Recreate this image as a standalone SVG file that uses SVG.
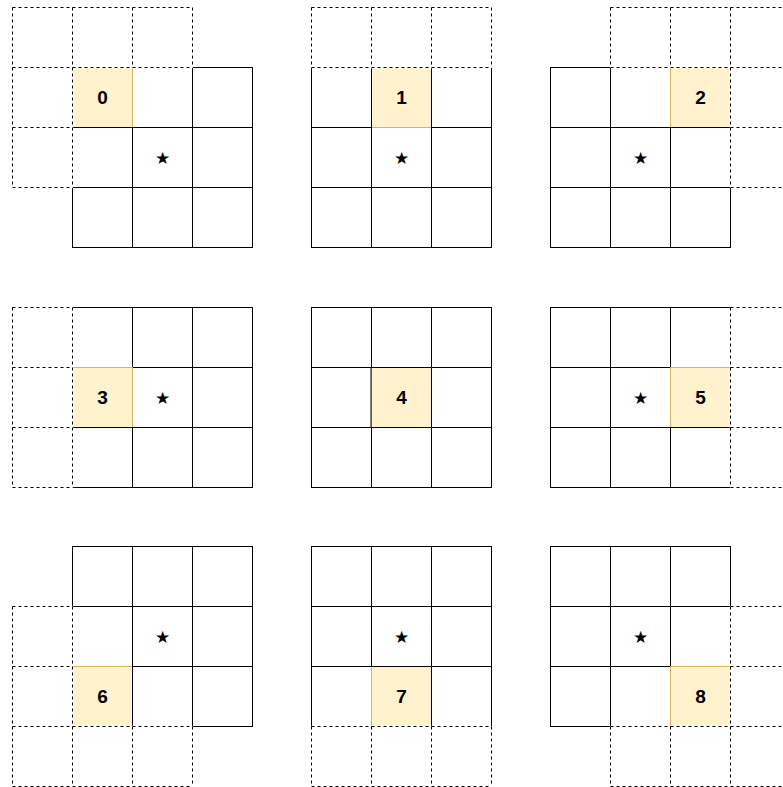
<svg xmlns="http://www.w3.org/2000/svg" xmlns:xlink="http://www.w3.org/1999/xlink" width="783" height="787" viewBox="0 0 783 787">
<style>
.dash{stroke:#000;stroke-width:1;fill:none;stroke-dasharray:3 3}
.erase{stroke:#fff;stroke-width:1.4;fill:none}
.solid{stroke:#000;stroke-width:1;fill:none;stroke-linecap:square}
.hl{fill:#fff2cc;stroke:#d6b656;stroke-width:1}
.num{font-family:"Liberation Sans",Arial,sans-serif;font-weight:bold;font-size:19px;text-anchor:middle;dominant-baseline:central;fill:#000}
.star{font-family:"DejaVu Sans",sans-serif;font-size:17px;text-anchor:middle;dominant-baseline:central;fill:#000}
</style>
<defs>
<g id="sg">
<rect x="0" y="0" width="180" height="180" fill="#fff"/>
<path class="solid" d="M0 0H180M0 60H180M0 120H180M0 180H180M0 0V180M60 0V180M120 0V180M180 0V180"/>
</g>
</defs>
<rect width="783" height="787" fill="#fff"/>
<g id="panel0" transform="translate(72.5,67.5)">
<use xlink:href="#sg"/>
<rect class="hl" x="0" y="0" width="60" height="60"/>
<path class="solid" d="M0 60H60"/>
<path class="erase" d="M-60 -60H120M-60 0H120M-60 60H0M-60 120H0M-60 -60V120M0 -60V120M60 -60V0M120 -60V0"/>
<path class="dash" d="M-60 -60H120M-60 0H120M-60 60H0M-60 120H0M-60 -60V120M0 -60V120M60 -60V0M120 -60V0"/>
<text class="num" x="30" y="30">0</text>
<text class="star" x="90" y="90">★</text>
</g>
<g id="panel1" transform="translate(311.5,67.5)">
<use xlink:href="#sg"/>
<rect class="hl" x="60" y="0" width="60" height="60"/>
<path class="solid" d="M60 0V60M120 0V60"/>
<path class="erase" d="M0 -60H180M0 0H180M0 -60V0M60 -60V0M120 -60V0M180 -60V0"/>
<path class="dash" d="M0 -60H180M0 0H180M0 -60V0M60 -60V0M120 -60V0M180 -60V0"/>
<text class="num" x="90" y="30">1</text>
<text class="star" x="90" y="90">★</text>
</g>
<g id="panel2" transform="translate(550.5,67.5)">
<use xlink:href="#sg"/>
<rect class="hl" x="120" y="0" width="60" height="60"/>
<path class="solid" d="M120 60H180"/>
<path class="erase" d="M60 -60H240M60 0H240M180 60H240M180 120H240M60 -60V0M120 -60V0M180 -60V120M240 -60V120"/>
<path class="dash" d="M60 -60H240M60 0H240M180 60H240M180 120H240M60 -60V0M120 -60V0M180 -60V120M240 -60V120"/>
<text class="num" x="150" y="30">2</text>
<text class="star" x="90" y="90">★</text>
</g>
<g id="panel3" transform="translate(72.5,307.5)">
<use xlink:href="#sg"/>
<rect class="hl" x="0" y="60" width="60" height="60"/>
<path class="solid" d="M0 120H60"/>
<path class="erase" d="M-60 0V180M0 0V180M-60 0H0M-60 60H0M-60 120H0M-60 180H0"/>
<path class="dash" d="M-60 0V180M0 0V180M-60 0H0M-60 60H0M-60 120H0M-60 180H0"/>
<text class="num" x="30" y="90">3</text>
<text class="star" x="90" y="90">★</text>
</g>
<g id="panel4" transform="translate(311.5,307.5)">
<use xlink:href="#sg"/>
<rect class="hl" x="60" y="60" width="60" height="60"/>
<path class="solid" d="M60 60H120V120H60Z"/>
<text class="num" x="90" y="90">4</text>
</g>
<g id="panel5" transform="translate(550.5,307.5)">
<use xlink:href="#sg"/>
<rect class="hl" x="120" y="60" width="60" height="60"/>
<path class="solid" d="M120 120H180"/>
<path class="erase" d="M180 0V180M240 0V180M180 0H240M180 60H240M180 120H240M180 180H240"/>
<path class="dash" d="M180 0V180M240 0V180M180 0H240M180 60H240M180 120H240M180 180H240"/>
<text class="num" x="150" y="90">5</text>
<text class="star" x="90" y="90">★</text>
</g>
<g id="panel6" transform="translate(72.5,546.5)">
<use xlink:href="#sg"/>
<rect class="hl" x="0" y="120" width="60" height="60"/>
<path class="solid" d="M60 120V180"/>
<path class="erase" d="M-60 60V240M0 60V240M-60 60H0M-60 120H0M-60 180H120M-60 240H120M60 180V240M120 180V240"/>
<path class="dash" d="M-60 60V240M0 60V240M-60 60H0M-60 120H0M-60 180H120M-60 240H120M60 180V240M120 180V240"/>
<text class="num" x="30" y="150">6</text>
<text class="star" x="90" y="90">★</text>
</g>
<g id="panel7" transform="translate(311.5,546.5)">
<use xlink:href="#sg"/>
<rect class="hl" x="60" y="120" width="60" height="60"/>
<path class="solid" d="M60 120H120V180"/>
<path class="erase" d="M0 180H180M0 240H180M0 180V240M60 180V240M120 180V240M180 180V240"/>
<path class="dash" d="M0 180H180M0 240H180M0 180V240M60 180V240M120 180V240M180 180V240"/>
<text class="num" x="90" y="150">7</text>
<text class="star" x="90" y="90">★</text>
</g>
<g id="panel8" transform="translate(550.5,546.5)">
<use xlink:href="#sg"/>
<rect class="hl" x="120" y="120" width="60" height="60"/>
<path class="erase" d="M180 60V240M240 60V240M180 60H240M180 120H240M60 180H240M60 240H240M60 180V240M120 180V240"/>
<path class="dash" d="M180 60V240M240 60V240M180 60H240M180 120H240M60 180H240M60 240H240M60 180V240M120 180V240"/>
<text class="num" x="150" y="150">8</text>
<text class="star" x="90" y="90">★</text>
</g>
</svg>
